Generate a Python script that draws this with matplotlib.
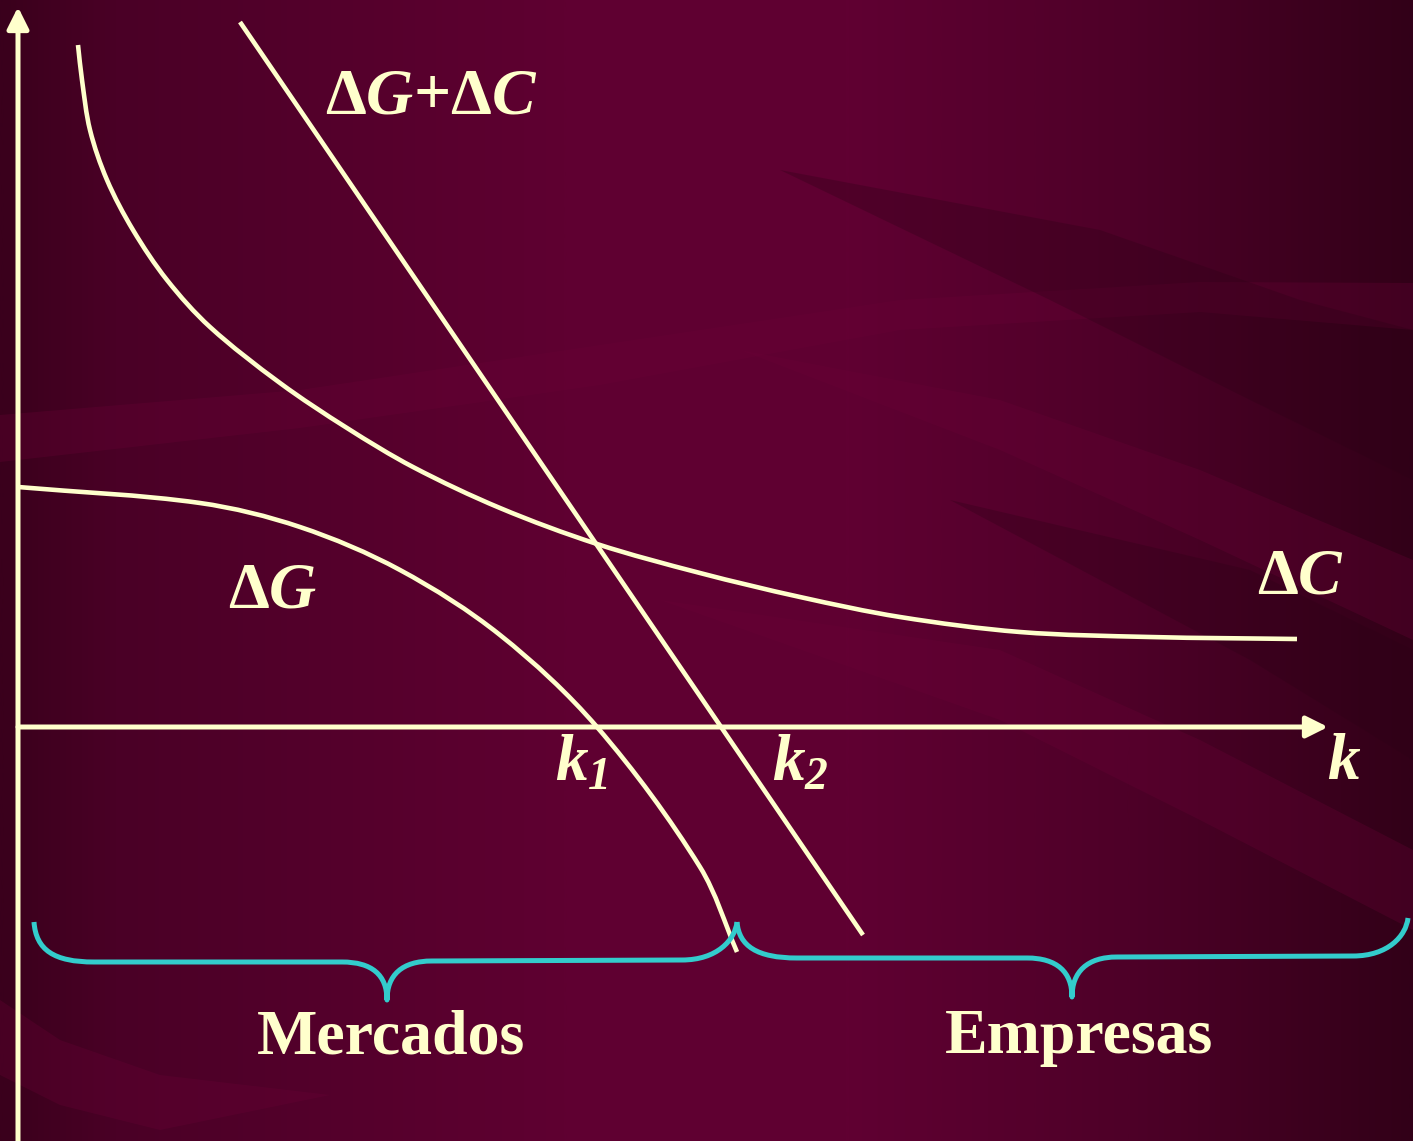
import numpy as np
import matplotlib.pyplot as plt
from matplotlib.path import Path
from matplotlib.patches import PathPatch, Polygon
from matplotlib.colors import LinearSegmentedColormap

# valores lidos do slide (k no eixo x, ganho/custo no eixo y)
dc_k = [0.60, 0.64, 0.72, 0.89, 1.15, 1.49, 1.92, 2.62, 3.29, 3.95, 4.82,
        5.79, 6.82, 7.82, 8.82, 10.02, 11.32, 12.79]
dc_y = [6.82, 6.47, 5.97, 5.47, 4.97, 4.47, 4.00, 3.44, 2.99, 2.60, 2.19,
        1.83, 1.54, 1.30, 1.10, 0.95, 0.90, 0.88]
dg_k = [0.00, 1.82, 2.82, 3.82, 4.82, 5.79, 6.82, 7.19]
dg_y = [2.40, 2.24, 2.00, 1.57, 0.92, 0.00, -1.40, -2.25]
soma_k = [2.22, 8.45]
soma_y = [7.05, -2.08]
k_max = 13.10
y_max = 7.20

CREAM = '#FFFFCC'
CYAN = '#33CCCC'

plt.rcParams['mathtext.fontset'] = 'custom'
plt.rcParams['mathtext.rm'] = 'Liberation Serif:bold'
plt.rcParams['mathtext.it'] = 'Liberation Serif:bold:italic'
plt.rcParams['mathtext.sf'] = 'Liberation Serif:bold:italic'
plt.rcParams['mathtext.bf'] = 'Liberation Serif:bold'


def px(x, y):
    # posicao em pixels do slide -> coordenadas do grafico
    return ((x - 18) / 100.0, (727 - y) / 100.0)


def smooth(xs, ys):
    # curva suave passando pelos pontos (tangentes ponderadas pelo comprimento)
    p = np.column_stack([xs, ys]).astype(float)
    d = np.hypot(*np.diff(p, axis=0).T)
    n = len(p)
    tan = np.zeros_like(p)
    tan[0] = (p[1] - p[0]) / d[0]
    tan[-1] = (p[-1] - p[-2]) / d[-1]
    for i in range(1, n - 1):
        tan[i] = (p[i + 1] - p[i - 1]) / (d[i - 1] + d[i])
    verts = [p[0]]
    codes = [Path.MOVETO]
    for i in range(n - 1):
        verts += [p[i] + tan[i] * d[i] / 3, p[i + 1] - tan[i + 1] * d[i] / 3, p[i + 1]]
        codes += [Path.CURVE4] * 3
    return Path(verts, codes)


fig = plt.figure(figsize=(14.13, 11.41), dpi=100)
ax = fig.add_axes([0, 0, 1, 1])
x0, y0 = px(0, 1141)
x1, y1 = px(1413, 0)
ax.set_xlim(x0, x1)
ax.set_ylim(y0, y1)
ax.axis('off')

# fundo
cmap = LinearSegmentedColormap.from_list('bg', [
    (0.0, '#3a001c'), (0.08, '#4a0026'), (0.4, '#5f0031'),
    (0.6, '#600032'), (0.8, '#4e0028'), (1.0, '#320018')])
ax.imshow(np.linspace(0, 1, 512)[None, :], cmap=cmap, aspect='auto',
          extent=[x0, x1, y0, y1], zorder=0)

bands = [
    ('#6a0036', [(0, 415), (300, 390), (600, 345), (900, 300), (1200, 282), (1413, 283),
                 (1413, 330), (1200, 312), (900, 330), (600, 385), (300, 428), (0, 462)]),
    ('#6a0036', [(740, 350), (1000, 400), (1200, 470), (1413, 560),
                 (1413, 640), (1200, 540), (1000, 450)]),
    ('#6a0036', [(660, 600), (1000, 650), (1200, 740), (1413, 850),
                 (1413, 930), (1200, 820), (1000, 720)]),
    ('#2c0016', [(950, 500), (1250, 570), (1413, 650), (1413, 760), (1250, 660)]),
    ('#2c0016', [(780, 170), (1100, 230), (1300, 300), (1413, 330),
                 (1413, 480), (1250, 400), (1050, 300)]),
    ('#6a0036', [(0, 1000), (60, 1040), (160, 1075), (330, 1095),
                 (160, 1130), (60, 1105), (0, 1075)]),
]
for col, pts in bands:
    ax.add_patch(Polygon([px(*p) for p in pts], closed=True, fc=col, ec='none',
                         alpha=0.3, zorder=1))

# eixos
ax.annotate('', xy=(k_max, 0), xytext=(0, 0),
            arrowprops=dict(arrowstyle='-|>,head_length=1.3,head_width=0.65',
                            lw=3.6, color=CREAM, shrinkA=0, shrinkB=0), zorder=4)
ax.annotate('', xy=(0, y_max), xytext=(0, y0),
            arrowprops=dict(arrowstyle='-|>,head_length=1.3,head_width=0.65',
                            lw=3.6, color=CREAM, shrinkA=0, shrinkB=0), zorder=4)

# curvas
ax.add_patch(PathPatch(smooth(dc_k, dc_y), fc='none', ec=CREAM, lw=3.3,
                       capstyle='butt', zorder=5))
ax.add_patch(PathPatch(smooth(dg_k, dg_y), fc='none', ec=CREAM, lw=3.3,
                       capstyle='butt', zorder=5))
ax.plot(soma_k, soma_y, color=CREAM, lw=3.3, solid_capstyle='butt', zorder=5)


# chaves
def brace(xa, xb, xm, y_end_a, y_end_b, y_line, y_tip):
    pts = [(xa, y_end_a), (xa + 2, y_line - 12), (xa + 20, y_line), (xa + 60, y_line),
           (xm - 45, y_line), (xm - 15, y_line), (xm, y_tip - 25), (xm, y_tip),
           (xm, y_tip - 25), (xm + 15, y_line - 1), (xm + 45, y_line - 1),
           (xb - 55, y_line - 2), (xb - 20, y_line - 2), (xb - 2, y_end_b + 18), (xb, y_end_b)]
    codes = [Path.MOVETO, Path.CURVE4, Path.CURVE4, Path.CURVE4,
             Path.LINETO, Path.CURVE4, Path.CURVE4, Path.CURVE4,
             Path.CURVE4, Path.CURVE4, Path.CURVE4,
             Path.LINETO, Path.CURVE4, Path.CURVE4, Path.CURVE4]
    ax.add_patch(PathPatch(Path([px(*p) for p in pts], codes), fc='none', ec=CYAN,
                           lw=3.6, capstyle='butt', joinstyle='round', zorder=6))


brace(34, 737, 387, 922, 922, 962, 1000)
brace(737, 1408, 1072, 922, 918, 958, 997)

# textos
tk = dict(color=CREAM, fontsize=47, family='Liberation Serif', fontweight='bold',
          ha='left', va='baseline', zorder=7)
ax.text(*px(325, 113), r'$\Delta G$+$\Delta C$', **tk)
ax.text(*px(228, 608), r'$\Delta G$', **tk)
ax.text(*px(1257, 593), r'$\Delta C$', **tk)
ax.text(*px(555, 780), r'$k_{\mathsf{1}}$', **tk)
ax.text(*px(772, 780), r'$k_{\mathsf{2}}$', **tk)
ax.text(*px(1327, 779), r'$k$', **tk)
tc = dict(tk, ha='center', fontsize=46)
ax.text(*px(391, 1053), 'Mercados', **tc)
ax.text(*px(1079, 1053), 'Empresas', **tc)

plt.savefig('out.png', dpi=100)
